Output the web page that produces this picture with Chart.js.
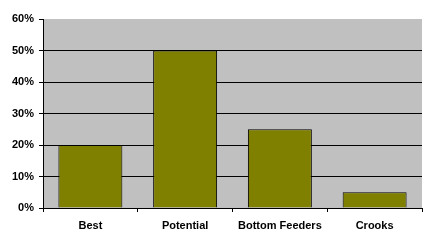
<!DOCTYPE html>
<html>
<head>
<meta charset="utf-8">
<script src="https://cdn.jsdelivr.net/npm/chart.js@4"></script>
<style>
  html, body { margin: 0; padding: 0; background: #fff; }
  #wrap { width: 430px; height: 245px; }
</style>
</head>
<body>
<div id="wrap"><canvas id="chart" width="430" height="245"></canvas></div>
<script>
const categories = ['Best', 'Potential', 'Bottom Feeders', 'Crooks'];
const shares = [20, 50, 25, 5];
const yTicks = [0, 10, 20, 30, 40, 50, 60];

// grey plot area like the old Excel chart
const plotBackground = {
    id: 'plotBackground',
    beforeDraw: function (chart) {
        const a = chart.chartArea;
        const ctx = chart.ctx;
        ctx.save();
        ctx.fillStyle = '#C0C0C0';
        ctx.fillRect(a.left, a.top, a.right - a.left, a.bottom - a.top);
        ctx.restore();
    }
};

const font = { family: '"Liberation Sans", Arial, sans-serif', size: 11, weight: 'bold' };

new Chart(document.getElementById('chart'), {
    type: 'bar',
    data: {
        labels: categories,
        datasets: [{
            data: shares,
            backgroundColor: '#808000',
            borderColor: '#000000',
            borderWidth: 1,
            categoryPercentage: 1,
            barPercentage: 0.675
        }]
    },
    options: {
        responsive: false,
        animation: false,
        layout: { padding: { top: 19, right: 8, left: 0, bottom: 0 } },
        plugins: {
            legend: { display: false },
            tooltip: { enabled: false }
        },
        scales: {
            x: {
                grid: {
                    offset: true,
                    drawOnChartArea: false,
                    color: '#000000',
                    tickLength: 4
                },
                border: { color: '#000000', width: 1 },
                ticks: { color: '#000000', font: font, padding: 7, maxRotation: 0 },
                afterFit: function (scale) { scale.height = 37; }
            },
            y: {
                min: 0,
                max: 60,
                afterBuildTicks: function (scale) {
                    scale.ticks = yTicks.map(function (v) { return { value: v }; });
                },
                grid: {
                    color: function (c) { return c.tick && c.tick.value === 60 ? 'rgba(0,0,0,0)' : '#000000'; },
                    tickColor: '#000000',
                    tickLength: 4
                },
                border: { color: '#000000', width: 1 },
                ticks: {
                    color: '#000000',
                    font: font,
                    padding: 5,
                    callback: function (v) { return v + '%'; }
                },
                afterFit: function (scale) { scale.width = 43; }
            }
        }
    },
    plugins: [plotBackground]
});
</script>
</body>
</html>
